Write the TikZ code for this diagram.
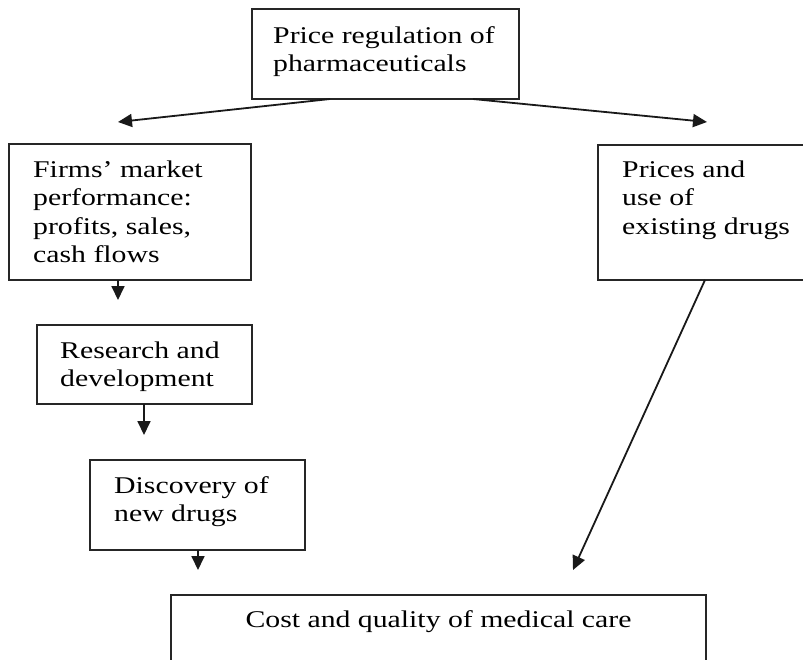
\documentclass[tikz,border=0pt]{standalone}
\usepackage{fontspec}
\setmainfont{Liberation Serif}
\usetikzlibrary{arrows.meta,positioning}

% text is a little wider than it is tall in the scan
\newcommand{\widetext}[1]{\scalebox{1.24}[1]{\begin{tabular}[t]{@{}l@{}}#1\end{tabular}}}

\begin{document}
\begin{tikzpicture}[x=1pt,y=1pt,>={Triangle[length=14pt,width=13pt]},
  box/.style={draw=black!85,line width=2pt,rectangle,inner sep=0pt,outer sep=0pt,anchor=north west},
  txt/.style={inner sep=0pt,anchor=base west,font=\fontsize{24}{28.5}\selectfont},
  arr/.style={->,line width=1.8pt,draw=black!90}]
\useasboundingbox (0,0) rectangle (803,-659);

\node[box,minimum width=267pt,minimum height=90pt] (reg) at (252,-9) {};
\node[box,minimum width=242pt,minimum height=136pt] (firms) at (9,-144) {};
\node[box,minimum width=240pt,minimum height=135pt] (prices) at (598,-145) {};
\node[box,minimum width=215pt,minimum height=79pt] (rd) at (37,-325) {};
\node[box,minimum width=215pt,minimum height=90pt] (disc) at (90,-460) {};
\node[box,minimum width=535pt,minimum height=100pt] (care) at (171,-595) {};

\node[txt] (regtxt) at ([shift={(21,-34)}]reg.north west) {\widetext{Price regulation of\\pharmaceuticals}};
\node[txt] (firmstxt) at ([shift={(24,-33)}]firms.north west) {\widetext{Firms' market\\performance:\\profits, sales,\\cash flows}};
\node[txt] (pricestxt) at ([shift={(24,-32)}]prices.north west) {\widetext{Prices and\\use of\\existing drugs}};
\node[txt] (rdtxt) at ([shift={(23,-33)}]rd.north west) {\widetext{Research and\\development}};
\node[txt] (disctxt) at ([shift={(24,-33)}]disc.north west) {\widetext{Discovery of\\new drugs}};
\node[txt,anchor=base] (caretxt) at ([yshift=-32pt]care.north) {\widetext{Cost and quality of medical care}};

\coordinate (tipfirms) at (118,-122);
\coordinate (tipprices) at (707,-122);
\coordinate (tiprd) at (118,-300);
\coordinate (tipdisc) at (144,-435);
\coordinate (tipcareL) at (198,-570);
\coordinate (tipcareR) at (573,-570);

\draw[arr] ([xshift=78pt]reg.south west) -- (tipfirms);
\draw[arr] ([xshift=221pt]reg.south west) -- (tipprices);
\draw[arr] ([xshift=109pt]firms.south west) -- (tiprd);
\draw[arr] ([xshift=107pt]rd.south west) -- (tipdisc);
\draw[arr] ([xshift=108pt]disc.south west) -- (tipcareL);
\draw[arr] ([xshift=107pt]prices.south west) -- (tipcareR);
\end{tikzpicture}
\end{document}
